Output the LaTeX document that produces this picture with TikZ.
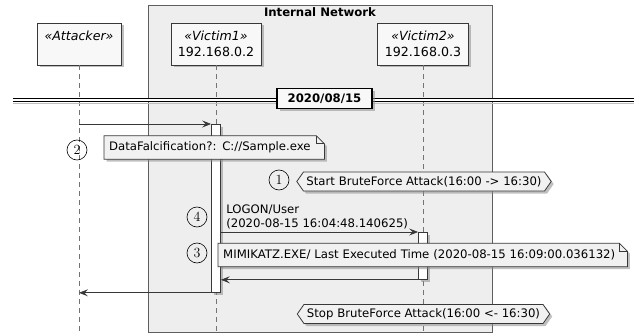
\documentclass[tikz,border=0pt]{standalone}
\usepackage{fontspec}
\newfontfamily\dvsans{DejaVu Sans}
\usetikzlibrary{arrows.meta,shapes.symbols,shadows}

\definecolor{linegray}{HTML}{383838}
\definecolor{framegray}{HTML}{5E5E5E}
\definecolor{netbg}{HTML}{EEEEEE}
\definecolor{notebg}{HTML}{F1F1F1}
\definecolor{partbg}{HTML}{F8F8F8}

\pgfdeclarelayer{paper}
\pgfdeclarelayer{top}
\pgfsetlayers{main,paper,top}

\tikzset{
  softshadow/.style={drop shadow={shadow xshift=2.5pt, shadow yshift=-2.5pt, fill=black!45, opacity=0.55}},
  partbox/.style={draw=linegray, fill=partbg, line width=0.9pt, minimum height=42pt, align=center,
    font=\dvsans\fontsize{12.6}{16}\selectfont, softshadow},
  lifeline/.style={draw=black!55, line width=0.8pt, dash pattern=on 5pt off 4pt},
  actbar/.style={draw=linegray, fill=white, line width=0.8pt, minimum width=9pt, inner sep=0pt, softshadow},
  msg/.style={draw=linegray, line width=0.8pt, -{Stealth[length=9pt, width=7pt, inset=3.5pt]}},
  msgtext/.style={align=left, inner sep=0pt, font=\dvsans\fontsize{11.7}{14}\selectfont},
  notetext/.style={align=left, inner xsep=5pt, minimum height=23pt, font=\dvsans\fontsize{11.7}{14}\selectfont},
  notepaper/.style={draw=linegray, fill=notebg, line width=0.8pt, softshadow},
  hexnote/.style={signal, signal to=west and east, signal pointer angle=110, draw=linegray, fill=notebg,
    line width=0.8pt, minimum height=19pt, inner xsep=3pt, font=\dvsans\fontsize{11.7}{14}\selectfont, softshadow},
  numcirc/.style={circle, draw=black, line width=0.6pt, minimum size=20pt, inner sep=0pt,
    font=\fontsize{14}{14}\selectfont},
  seplabel/.style={draw=black, fill=partbg, line width=1.3pt, minimum width=95pt, minimum height=20pt,
    inner sep=0pt, font=\dvsans\bfseries\fontsize{11.7}{14}\selectfont, softshadow}
}

% note outline with the folded corner
\newcommand{\notepaper}[1]{%
  \draw[notepaper] (#1.south west) -- (#1.north west) -- ([xshift=-8pt]#1.north east)
    -- ([yshift=-8pt]#1.north east) -- (#1.south east) -- cycle;
  \draw[linegray, line width=0.8pt] ([xshift=-8pt]#1.north east) |- ([yshift=-8pt]#1.north east);
}

\begin{document}
\begin{tikzpicture}[x=1pt, y=-1pt]
  \useasboundingbox (0,0) rectangle (637,334);

  % internal network box
  \draw[draw=framegray, fill=netbg, line width=0.8pt] (148,5) rectangle (492,332);
  \node[font=\dvsans\bfseries\fontsize{11.7}{14}\selectfont] (nettitle) at (320,12.5) {Internal Network};

  % participants
  \node[partbox, minimum width=84pt] (att) at (79,44) {\itshape «Attacker»\\\phantom{1}};
  \node[partbox, minimum width=90pt] (vic1) at (216,44) {\itshape «Victim1»\\192.168.0.2};
  \node[partbox, minimum width=91pt] (vic2) at (423,44) {\itshape «Victim2»\\192.168.0.3};

  \coordinate (bottom) at (0,332);
  \foreach \p in {att,vic1,vic2}
    \draw[lifeline] (\p.south) -- (\p.south |- bottom);

  % date separator
  \coordinate (sepL) at (13,99.8);
  \coordinate (sepR) at (634,99.8);
  \draw[black!25, line width=1.5pt] ([yshift=-3.5pt]sepL) -- ([yshift=-3.5pt]sepR);
  \draw[double=white, double distance=2.2pt, line width=0.9pt] (sepL) -- (sepR);
  \node[seplabel] (sep) at (324.5,98.5) {2020/08/15};

  % activations
  \node[actbar, minimum height=168pt, anchor=north] (act1) at (216,124) {};
  \node[actbar, minimum height=47pt, anchor=north] (act2) at (423,232) {};

  % messages
  \draw[msg] (att.south |- act1.north) -- (act1.north west);
  \draw[msg] (act1.east |- act2.north) -- node[msgtext, pos=0, anchor=south west, xshift=5pt, yshift=3pt] (logon)
    {LOGON/User\\(2020-08-15 16:04:48.140625)} (act2.north west);
  \draw[msg] (act2.south west) -- (act1.east |- act2.south);
  \draw[msg] (act1.south west) -- (att.south |- act1.south);

  % brute force window
  \node[hexnote] (bfstart) at (424,181.5) {Start BruteForce Attack(16:00 -> 16:30)};
  \node[hexnote] (bfstop) at (423.5,314) {Stop BruteForce Attack(16:00 <- 16:30)};

  % step numbers
  \node[numcirc] (n1) at (279,180) {1};
  \node[numcirc] (n2) at (77,150) {2};
  \node[numcirc] (n3) at (197,253) {3};
  \node[numcirc] (n4) at (197,217) {4};

  % notes
  \begin{pgfonlayer}{top}
    \node[notetext, text width=210pt, anchor=west] (note1) at (104,147.5) {DataFalcification?: C://Sample.exe};
    \node[notetext, text width=399pt, anchor=west] (note2) at (218,255) {MIMIKATZ.EXE/ Last Executed Time (2020-08-15 16:09:00.036132)};
  \end{pgfonlayer}
  \begin{pgfonlayer}{paper}
    \notepaper{note1}
    \notepaper{note2}
  \end{pgfonlayer}
\end{tikzpicture}
\end{document}
